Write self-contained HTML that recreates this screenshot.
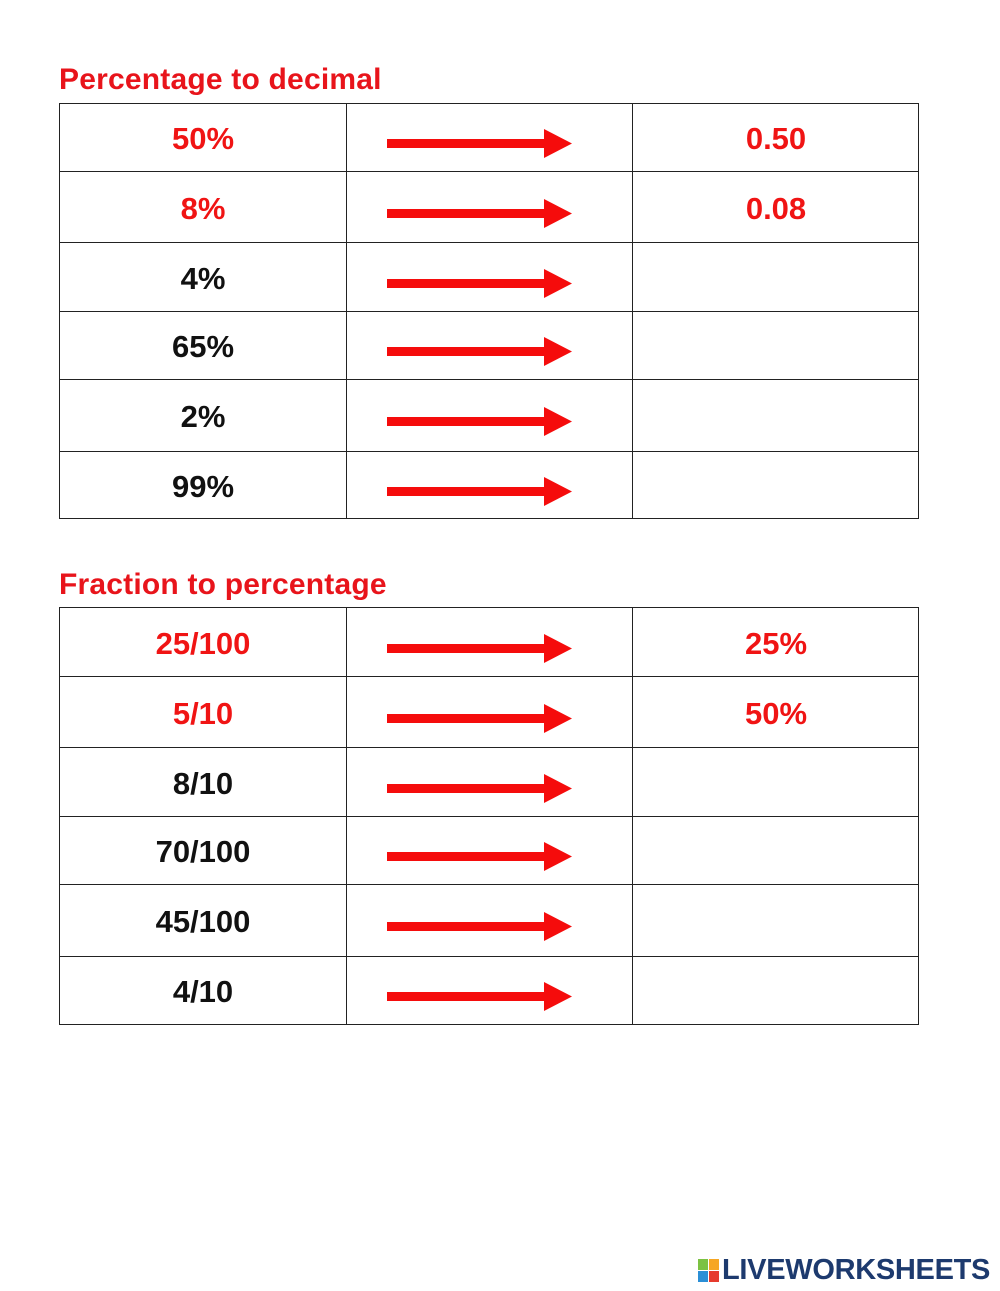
<!DOCTYPE html>
<html><head><meta charset="utf-8"><style>
body{margin:0;background:#fff;width:1000px;height:1291px;position:relative;overflow:hidden;font-family:"Liberation Sans",sans-serif;font-weight:bold}
.t{position:absolute;left:59px;color:#e8141b;font-size:30px;white-space:nowrap;letter-spacing:0.2px}
.c{position:absolute;font-size:31px;text-align:center;width:286px;white-space:nowrap}
.r{color:#f01414}
.k{color:#111}
.ln{position:absolute;background:#222}
svg.a{position:absolute}
</style></head><body>
<div class="t" style="top:63px">Percentage to decimal</div>
<div class="t" style="top:568px">Fraction to percentage</div>
<div id="g"></div>
<script>
function tbl(ys,data){
 var h='';
 h+='<div class="ln" style="left:59px;top:'+ys[0]+'px;width:1px;height:'+(ys[ys.length-1]-ys[0]+1)+'px"></div>';
 [346,632,918].forEach(function(x){h+='<div class="ln" style="left:'+x+'px;top:'+ys[0]+'px;width:1px;height:'+(ys[ys.length-1]-ys[0]+1)+'px"></div>';});
 ys.forEach(function(y){h+='<div class="ln" style="left:59px;top:'+y+'px;width:860px;height:1px"></div>';});
 for(var i=0;i<6;i++){
  var m=(ys[i]+ys[i+1])/2;
  var d=data[i];
  var cl=d[2]?'r':'k';
  h+='<div class="c '+cl+'" style="left:60px;top:'+(m-16)+'px">'+d[0]+'</div>';
  if(d[1]) h+='<div class="c '+cl+'" style="left:633px;top:'+(m-16)+'px">'+d[1]+'</div>';
  var ay=m+6;
  h+='<svg class="a" style="left:386px;top:'+(ay-15)+'px" width="190" height="30"><rect x="1" y="11" width="160" height="9" fill="#f50c0c"/><polygon points="158,1 186,15.5 158,30" fill="#f50c0c"/></svg>';
 }
 return h;
}
document.getElementById('g').innerHTML=
 tbl([103,171,242,311,379,451,518],[['50%','0.50',1],['8%','0.08',1],['4%','',0],['65%','',0],['2%','',0],['99%','',0]])+
 tbl([607,676,747,816,884,956,1024],[['25/100','25%',1],['5/10','50%',1],['8/10','',0],['70/100','',0],['45/100','',0],['4/10','',0]]);
</script>
<div style="position:absolute;left:698px;top:1259px;width:22px;height:24px">
 <div style="position:absolute;left:0;top:0;width:10px;height:11px;background:#7cc243"></div>
 <div style="position:absolute;left:11px;top:0;width:10px;height:11px;background:#f6a623"></div>
 <div style="position:absolute;left:0;top:12px;width:10px;height:11px;background:#2b8fd6"></div>
 <div style="position:absolute;left:11px;top:12px;width:10px;height:11px;background:#e63b2e"></div>
</div>
<div style="position:absolute;left:722px;top:1254px;font-size:29px;color:#1d3a6e;letter-spacing:-0.3px;white-space:nowrap">LIVEWORKSHEETS</div>
</body></html>
